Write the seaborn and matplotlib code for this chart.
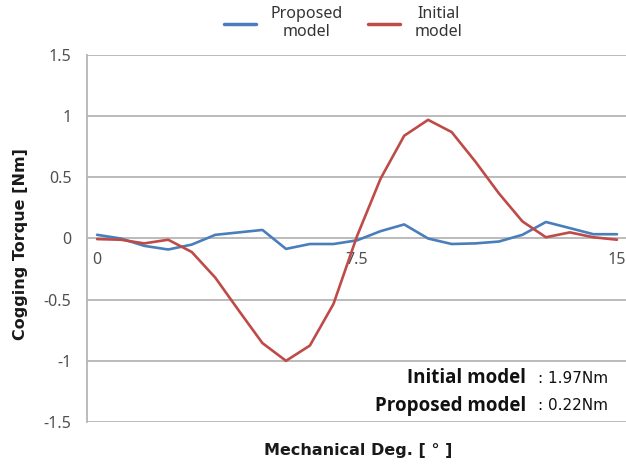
import matplotlib
matplotlib.use("Agg")
import matplotlib.pyplot as plt
import pandas as pd
import seaborn as sns

# Cogging torque over one slot pitch (mechanical degrees)
angle_deg = [0.00, 0.68, 1.36, 2.05, 2.73, 3.41, 4.09, 4.77, 5.45, 6.14, 6.82, 7.50,
             8.18, 8.86, 9.55, 10.23, 10.91, 11.59, 12.27, 12.95, 13.64, 14.32, 15.00]
proposed_nm = [0.03, 0.00, -0.06, -0.09, -0.05, 0.03, 0.05, 0.07, -0.085, -0.045, -0.045, -0.015,
               0.06, 0.115, 0.00, -0.045, -0.04, -0.025, 0.03, 0.135, 0.085, 0.035, 0.035]
initial_nm = [-0.005, -0.01, -0.04, -0.01, -0.11, -0.32, -0.59, -0.855, -1.00, -0.875, -0.535, 0.02,
              0.49, 0.84, 0.97, 0.87, 0.63, 0.37, 0.14, 0.01, 0.05, 0.01, -0.01]

series_names = ["Proposed\nmodel", "Initial\nmodel"]
series_colors = ["#4a7ebb", "#be4b48"]
x_ticks = [0, 7.5, 15]
x_tick_labels = ["0", "7.5", "15"]
y_ticks = [-1.5, -1, -0.5, 0, 0.5, 1, 1.5]
y_tick_labels = ["-1.5", "-1", "-0.5", "0", "0.5", "1", "1.5"]
summary_labels = ["Initial model", "Proposed model"]
summary_values = [": 1.97Nm", ": 0.22Nm"]

df = pd.concat([
    pd.DataFrame({"deg": angle_deg, "torque": proposed_nm, "model": series_names[0]}),
    pd.DataFrame({"deg": angle_deg, "torque": initial_nm, "model": series_names[1]}),
])

sns.set_theme(style="white")
plt.rcParams["font.family"] = ["Noto Sans", "DejaVu Sans"]

fig = plt.figure(figsize=(6.26, 4.65), dpi=100)
ax = fig.add_axes([0.1385, 0.0925, 0.8615, 0.7892])

sns.lineplot(data=df, x="deg", y="torque", hue="model", hue_order=series_names,
             palette=series_colors, linewidth=1.9, ax=ax, legend=True, estimator=None,
             sort=False)

ax.set_xlim(-0.3, 15.26)
ax.set_ylim(-1.5, 1.5)

grid_c = "#b5b5b5"
ax.set_yticks(y_ticks)
ax.set_yticklabels(y_tick_labels)
for yv in y_ticks:
    ax.axhline(yv, color=grid_c, lw=1.3, zorder=0.5)

ax.set_xticks(x_ticks)
ax.set_xticklabels(x_tick_labels)

for side in ["top", "right"]:
    ax.spines[side].set_visible(False)
ax.spines["bottom"].set_position(("data", 0))
ax.spines["bottom"].set_visible(False)
ax.spines["left"].set_color(grid_c)
ax.spines["left"].set_linewidth(1.3)

ax.tick_params(axis="y", direction="out", length=4, width=1.0, color=grid_c, pad=7,
               labelsize=11.5, labelcolor="#505050")
ax.tick_params(axis="x", length=0, pad=10, labelsize=11.5, labelcolor="#505050")
ax.set_xlabel("")
ax.set_ylabel("")

# axis titles
fig.text(0.032, 0.475, "Cogging Torque [Nm]", rotation=90, ha="center", va="center",
         fontsize=11.5, fontweight="bold", family=["DejaVu Sans"], color="#1a1a1a")
fig.text(0.572, 0.032, "Mechanical Deg. [ \u00b0 ]", ha="center", va="center",
         fontsize=11.5, fontweight="bold", family=["DejaVu Sans"], color="#1a1a1a")

# peak-to-peak summary
for i, (lab, val) in enumerate(zip(summary_labels, summary_values)):
    y = 0.187 - i * 0.060
    fig.text(0.840, y, lab, ha="right", va="center", fontsize=13.5, fontweight="bold",
             family=["Open Sans", "DejaVu Sans"], color="#111111")
    fig.text(0.860, y, val, ha="left", va="center", fontsize=11,
             family=["DejaVu Sans"], color="#111111")

# legend across the top
handles, labels = ax.get_legend_handles_labels()
ax.get_legend().remove()
leg = fig.legend(handles, labels, loc="center", bbox_to_anchor=(0.548, 0.95), ncol=2,
                 frameon=False, fontsize=11.5, handlelength=2.0, columnspacing=1.6,
                 handletextpad=0.9)
for t in leg.get_texts():
    t.set_multialignment("center")
    t.set_color("#333333")
for h in leg.get_lines():
    h.set_linewidth(2.5)

fig.savefig("out.png", dpi=100)
